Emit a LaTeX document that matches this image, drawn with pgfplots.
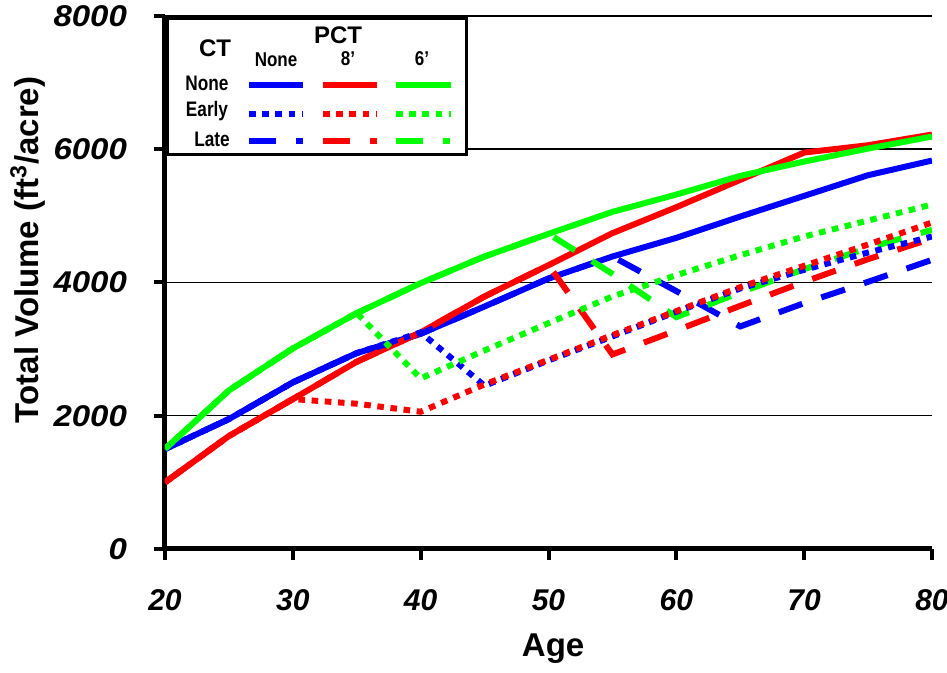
\documentclass[border=0pt]{standalone}
\usepackage{fontspec}
\setmainfont{Liberation Sans}
\usepackage{graphicx}
\usepackage{pgfplots}
\pgfplotsset{compat=1.18}
\usetikzlibrary{calc}

\definecolor{cblue}{RGB}{0,0,255}
\definecolor{cred}{RGB}{255,0,0}
\definecolor{cgreen}{RGB}{0,255,0}

\tikzset{
  solidln/.style={line width=3pt, line cap=butt, line join=round},
  dotln/.style={line width=3pt, line cap=butt, dash pattern=on 3.3pt off 3.3pt},
  dashln/.style={line width=3pt, line cap=butt, dash pattern=on 12.5pt off 10pt},
}

\begin{document}
\begin{tikzpicture}
\begin{axis}[
  name=ax,
  scale only axis,
  width=383.5pt, height=266.5pt,
  xmin=20, xmax=80, ymin=0, ymax=8000,
  xtick={20,30,...,80},
  ytick={0,2000,...,8000},
  axis x line*=bottom, axis y line*=left,
  axis line style={line width=2.5pt},
  tick align=outside,
  major tick length=5.5pt,
  tick style={line width=2pt, black},
  ymajorgrids,
  major grid style={line width=0.75pt, black},
  /pgf/number format/1000 sep={},
  /pgf/number format/assume math mode=true,
  ticklabel style={font=\fontsize{15}{18}\selectfont\bfseries\itshape},
  xticklabel style={anchor=base, yshift=-25.5pt},
  yticklabel style={anchor=east, xshift=-10pt},
  yticklabel={\scalebox{1.1}[1]{\pgfmathprintnumber{\tick}}},
  xlabel={Age},
  ylabel={Total Volume (ft\textsuperscript{3}/acre)},
  label style={font=\fontsize{16.5}{19}\selectfont\bfseries},
  xlabel style={at={(axis description cs:0.506,-0.2026)}, anchor=base},
  ylabel style={at={(axis description cs:-0.1786,0.561)}, anchor=center},
]
% CT None
\addplot[cblue, solidln] coordinates {
  (20,1500)(25,1950)(30,2500)(35,2940)(40,3230)(45,3640)(50,4060)(55,4390)(60,4670)(65,4990)(70,5300)(75,5610)(80,5830)};
\addplot[cred, solidln] coordinates {
  (20,1000)(25,1695)(30,2250)(35,2810)(40,3250)(45,3790)(50,4260)(55,4740)(60,5130)(65,5540)(70,5950)(75,6060)(80,6220)};
\addplot[cgreen, solidln] coordinates {
  (20,1500)(25,2380)(30,3010)(35,3540)(40,3990)(45,4390)(50,4730)(55,5060)(60,5320)(65,5600)(70,5815)(75,6010)(80,6190)};
% CT Late
\addplot[cblue, dashln] coordinates {
  (20,1500)(25,1950)(30,2500)(35,2940)(40,3230)(45,3640)(50,4060)(55,4390)(60,3870)(65,3340)(70,3690)(75,4010)(80,4340)};
\addplot[cred, dashln] coordinates {
  (20,1000)(25,1695)(30,2250)(35,2810)(40,3250)(45,3790)(50,4260)(55,2920)(60,3280)(65,3650)(70,4010)(75,4350)(80,4660)};
\addplot[cgreen, dashln] coordinates {
  (20,1500)(25,2380)(30,3010)(35,3540)(40,3990)(45,4390)(50,4730)(55,4130)(60,3480)(65,3850)(70,4200)(75,4520)(80,4790)};
% CT Early
\addplot[cblue, dotln] coordinates {
  (20,1500)(25,1950)(30,2500)(35,2940)(40,3250)(45,2450)(50,2830)(55,3190)(60,3560)(65,3910)(70,4190)(75,4450)(80,4690)};
\addplot[cred, dotln] coordinates {
  (20,1000)(25,1695)(30,2250)(35,2180)(40,2060)(45,2470)(50,2840)(55,3210)(60,3570)(65,3930)(70,4250)(75,4570)(80,4900)};
\addplot[cgreen, dotln] coordinates {
  (20,1500)(25,2380)(30,3010)(35,3540)(40,2560)(45,2980)(50,3390)(55,3790)(60,4110)(65,4410)(70,4690)(75,4930)(80,5170)};
\end{axis}

% legend table
\begin{scope}[shift={(ax.north west)}, x=0.5pt, y=-0.5pt]
  \draw[line width=1.5pt, fill=white] (2,3) rectangle (301,139);
  \node[font=\fontsize{12}{14}\selectfont\bfseries] at (50,32) {CT};
  \node[font=\fontsize{12}{14}\selectfont\bfseries] at (173,19) {PCT};
  \node[font=\fontsize{10}{12}\selectfont\bfseries] at (111,44) {\scalebox{0.85}[1]{None}};
  \node[font=\fontsize{10}{12}\selectfont\bfseries] at (183,43) {\scalebox{0.85}[1]{8’}};
  \node[font=\fontsize{10}{12}\selectfont\bfseries] at (257,43) {\scalebox{0.85}[1]{6’}};
  \node[font=\fontsize{10.5}{12}\selectfont\bfseries] at (42,67) {\scalebox{0.82}[1]{None}};
  \node[font=\fontsize{10.5}{12}\selectfont\bfseries] at (42,95) {\scalebox{0.82}[1]{Early}};
  \node[font=\fontsize{10.5}{12}\selectfont\bfseries] at (47,123) {\scalebox{0.82}[1]{Late}};
  \draw[cblue, solidln] (84,69) -- (138,69);
  \draw[cred, solidln] (158,69) -- (212,69);
  \draw[cgreen, solidln] (231,69) -- (286,69);
  \draw[cblue, dotln] (84,98) -- (138,98);
  \draw[cred, dotln] (158,98) -- (212,98);
  \draw[cgreen, dotln] (231,98) -- (286,98);
  \draw[cblue, line width=3pt, dash pattern=on 13.5pt off 10pt on 3.5pt off 10pt] (84,125) -- (138,125);
  \draw[cred, line width=3pt, dash pattern=on 13.5pt off 10pt on 3.5pt off 10pt] (158,125) -- (212,125);
  \draw[cgreen, line width=3pt, dash pattern=on 13.5pt off 10pt on 3.5pt off 10pt] (231,125) -- (286,125);
\end{scope}

\pgfresetboundingbox
\path[use as bounding box] ($(ax.south west)+(-82.5pt,-62pt)$) rectangle ($(ax.north east)+(7.5pt,8pt)$);
\end{tikzpicture}
\end{document}
